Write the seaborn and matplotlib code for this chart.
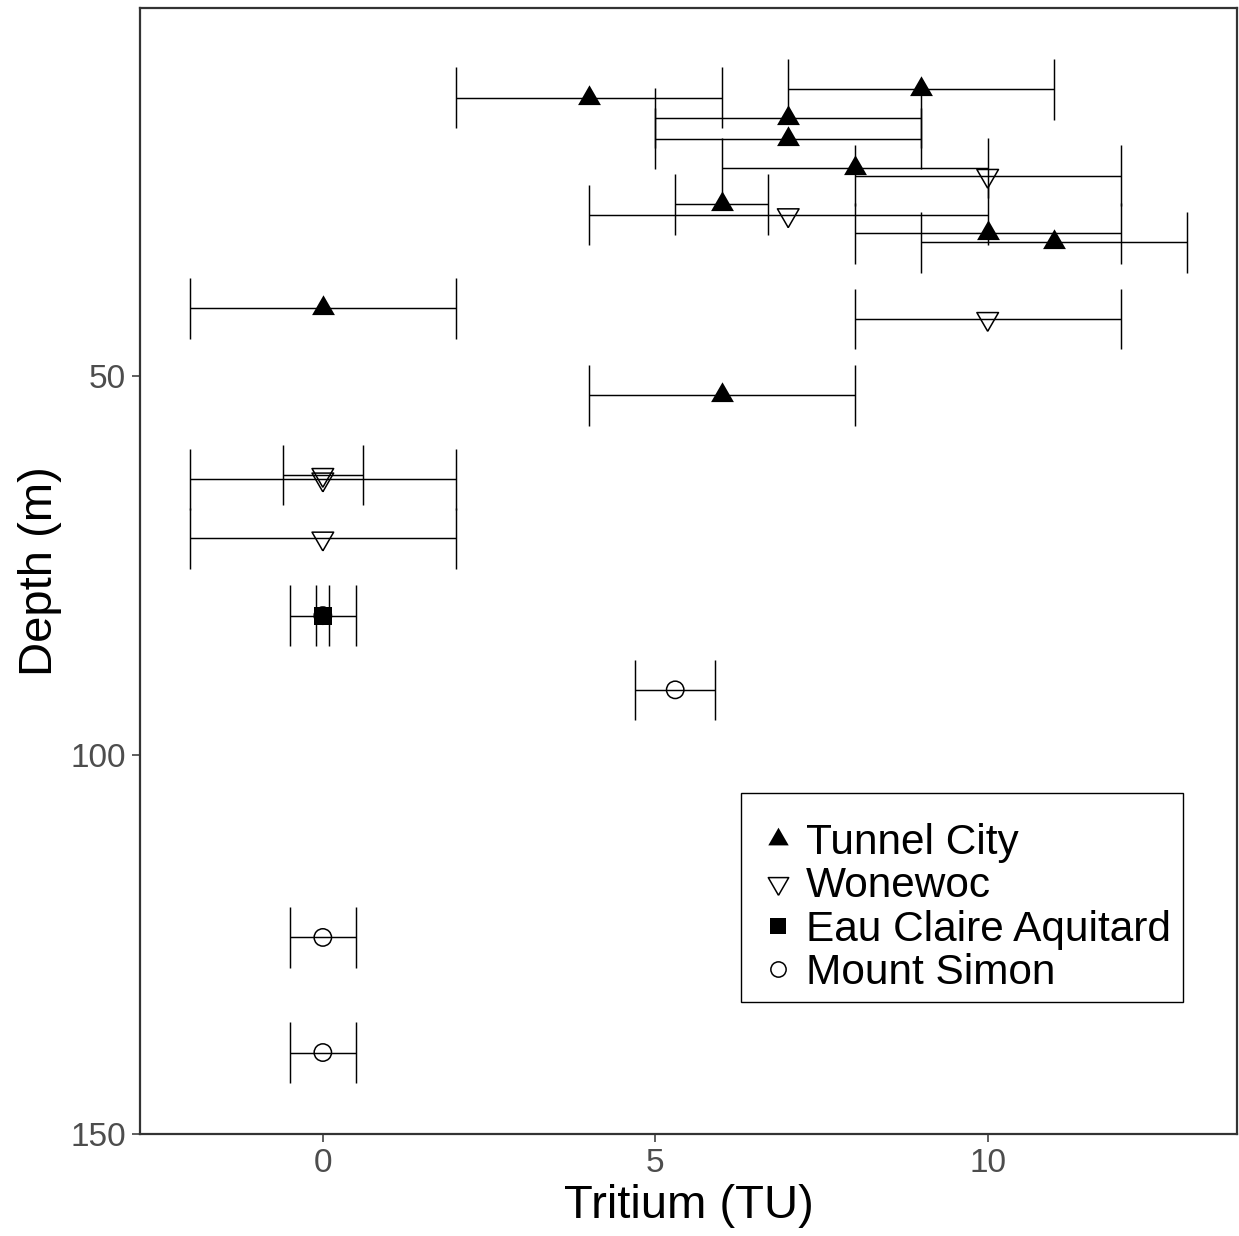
import numpy as np
import pandas as pd
import matplotlib
matplotlib.use("Agg")
import matplotlib.pyplot as plt
from matplotlib.lines import Line2D
from matplotlib.patches import Rectangle
import seaborn as sns

# ---------------- data ----------------
tunnel_tritium = [4, 9, 7, 7, 8, 6, 10, 11, 0, 6]
tunnel_depth = [13.2, 12.1, 15.9, 18.6, 22.5, 27.3, 31.1, 32.3, 41.0, 52.5]
tunnel_err = [2, 2, 2, 2, 2, 0.7, 2, 2, 2, 2]

wonewoc_tritium = [10, 7, 10, 0, 0, 0]
wonewoc_depth = [23.5, 28.7, 42.4, 63.0, 63.6, 71.4]
wonewoc_err = [2, 3, 2, 0.6, 2, 2]

eau_tritium = [0]
eau_depth = [81.6]
eau_err = [0.5]

simon_tritium = [0, 5.3, 0, 0]
simon_depth = [81.6, 91.4, 124.1, 139.3]
simon_err = [0.1, 0.6, 0.5, 0.5]

units = ["Mount Simon", "Tunnel City", "Wonewoc", "Eau Claire Aquitard"]

frames = []
for name, t, d, e in [("Mount Simon", simon_tritium, simon_depth, simon_err),
                      ("Tunnel City", tunnel_tritium, tunnel_depth, tunnel_err),
                      ("Wonewoc", wonewoc_tritium, wonewoc_depth, wonewoc_err),
                      ("Eau Claire Aquitard", eau_tritium, eau_depth, eau_err)]:
    frames.append(pd.DataFrame({"unit": name, "tritium": t, "depth": d, "err": e}))
df = pd.concat(frames, ignore_index=True)

# ---------------- style ----------------
sns.set_theme(style="white")
plt.rcParams["font.family"] = ["Liberation Sans", "DejaVu Sans"]
plt.rcParams["text.color"] = "black"

tri_up = [(0, 1), (-0.866, -0.5), (0.866, -0.5), (0, 1)]
tri_down = [(0, -1), (-0.866, 0.5), (0.866, 0.5), (0, -1)]

styles = {
    "Tunnel City": dict(marker=tri_up, s=19**2, facecolors="black", edgecolor="black", linewidth=0),
    "Wonewoc": dict(marker=tri_down, s=18**2, facecolors="none", edgecolor="black", linewidth=1.1),
    "Eau Claire Aquitard": dict(marker="s", s=13**2, facecolors="black", edgecolor="black", linewidth=0),
    "Mount Simon": dict(marker="o", s=12.5**2, facecolors="none", edgecolor="black", linewidth=1.1),
}

fig = plt.figure(figsize=(12.39, 12.36), dpi=100)
ax = fig.add_axes([140 / 1239, 1 - 1134 / 1236, 1097 / 1239, 1126 / 1236])

cap = 4.0
# error bars first
for _, r in df.iterrows():
    lo, hi = r.tritium - r.err, r.tritium + r.err
    ax.hlines(r.depth, lo, hi, color="black", lw=1.05, zorder=2)
    ax.vlines([lo, hi], r.depth - cap, r.depth + cap, color="black", lw=1.05, zorder=2)

for name in units:
    sub = df[df.unit == name]
    sns.scatterplot(data=sub, x="tritium", y="depth", ax=ax, legend=False,
                    zorder=3, **styles[name])

ax.set_xlim(-2.75, 13.75)
ax.set_ylim(150.06, 1.35)
ax.set_xticks([0, 5, 10])
ax.set_yticks([50, 100, 150])
ax.set_xlabel("Tritium (TU)", fontsize=34, color="black", labelpad=4)
ax.set_ylabel("Depth (m)", fontsize=34, color="black", labelpad=6)
ax.tick_params(axis="both", labelsize=24, labelcolor="#4D4D4D", color="#333333",
               length=6, width=1.1, direction="out", pad=4, bottom=True, left=True)
for sp in ax.spines.values():
    sp.set_color("#333333")
    sp.set_linewidth(1.6)
ax.grid(False)

# legend frame
ax.add_patch(Rectangle((0.5479, 0.1172), 0.4029, 0.1856, transform=ax.transAxes,
                       facecolor="white", edgecolor="black", lw=1.0, zorder=4.5,
                       clip_on=False))

handles = [
    Line2D([], [], linestyle="none", marker=tri_up, markersize=17, markerfacecolor="black",
           markeredgecolor="black", markeredgewidth=0),
    Line2D([], [], linestyle="none", marker=tri_down, markersize=17, markerfacecolor="none",
           markeredgecolor="black", markeredgewidth=1.1),
    Line2D([], [], linestyle="none", marker="s", markersize=12, markerfacecolor="black",
           markeredgecolor="black", markeredgewidth=0),
    Line2D([], [], linestyle="none", marker="o", markersize=11, markerfacecolor="none",
           markeredgecolor="black", markeredgewidth=1.1),
]
labels = ["Tunnel City", "Wonewoc", "Eau Claire Aquitard", "Mount Simon"]
leg = ax.legend(handles, labels, loc="upper left", bbox_to_anchor=(0.5643, 0.2762),
                fontsize=30.5, frameon=False, labelspacing=0.08, handlelength=0.9,
                handletextpad=0.2, borderpad=0, borderaxespad=0,
                labelcolor="black")
leg.set_zorder(5)

fig.savefig("out.png", dpi=100)
